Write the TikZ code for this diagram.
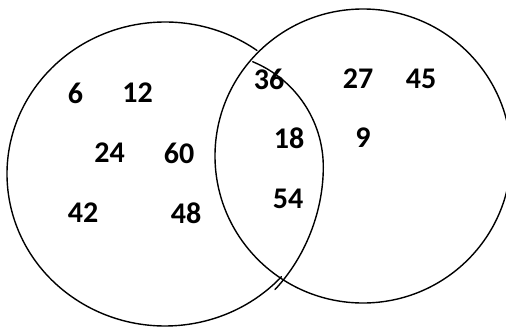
\documentclass[tikz,border=0pt]{standalone}
\usepackage{fontspec}
\setmainfont{Carlito}
\usepackage{tikz}
\begin{document}
\begin{tikzpicture}[line cap=round,line join=round,x=1pt,y=-1pt,
  num/.style={font=\bfseries\fontsize{30}{30}\selectfont,inner sep=0pt}]
\useasboundingbox (0,0) rectangle (506,327);
\begin{scope}
\clip (0,0) rectangle (506,327);
\draw[line width=1.4pt] (363,156) ellipse [x radius=148,y radius=147];
\draw[line width=1.4pt] (165,174) ++(-54.4:158 and 152) arc [start angle=-54.4,end angle=-317.5,x radius=158,y radius=152];
\draw[line width=1.4pt] (209.5,167) ++(-67.7:113.8) arc [start angle=-67.7,end angle=0,radius=113.8]
  .. controls (323.3,212) and (305,257.7) .. (275,289.5);
\end{scope}
\node[num] (n6) at (75.5,93) {6};
\node[num] (n12) at (137.5,93) {12};
\node[num] (n24) at (109.5,153) {24};
\node[num] (n60) at (179,153) {60};
\node[num] (n42) at (83,213) {42};
\node[num] (n48) at (186,213) {48};
\node[num] (n36) at (269,79) {36};
\node[num] (n27) at (358,79) {27};
\node[num] (n45) at (421,79) {45};
\node[num] (n18) at (289,138) {18};
\node[num] (n9) at (363,138) {9};
\node[num] (n54) at (288,199) {54};
\end{tikzpicture}
\end{document}
